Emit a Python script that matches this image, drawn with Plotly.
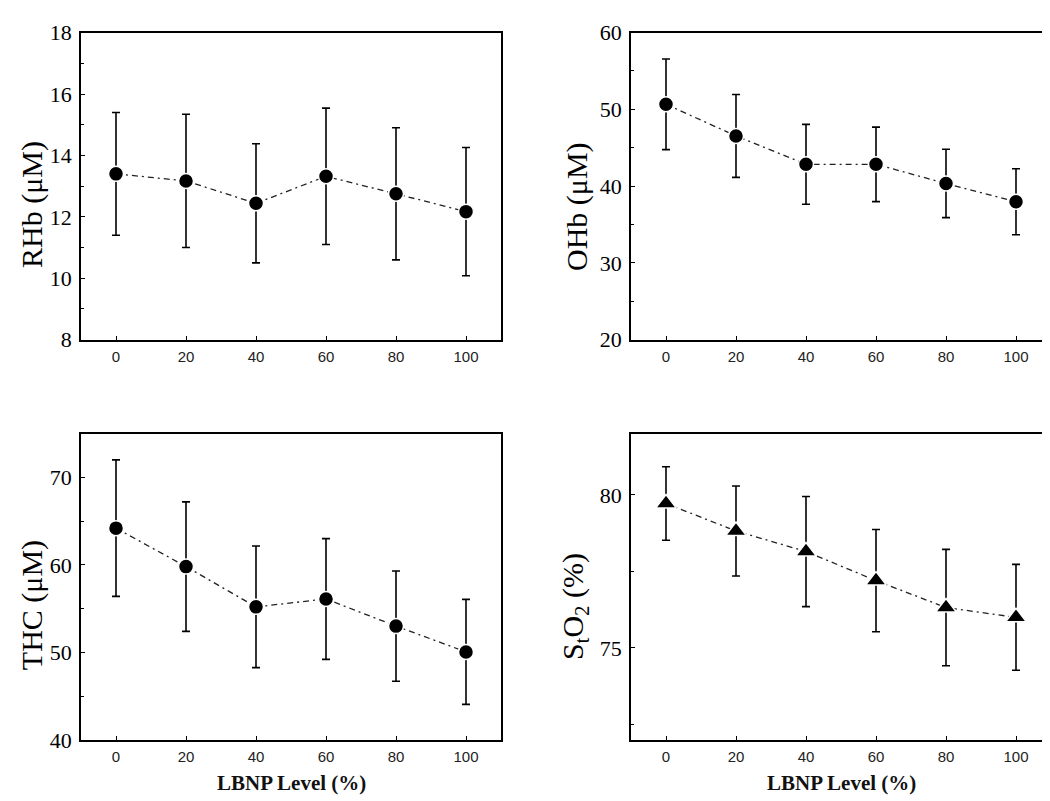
import plotly.graph_objects as go

W, H = 1050, 801

lbnp = [0, 20, 40, 60, 80, 100]

rhb = [13.40, 13.17, 12.44, 13.32, 12.75, 12.17]
rhb_err = [2.00, 2.17, 1.94, 2.22, 2.15, 2.09]

ohb = [50.66, 46.54, 42.84, 42.84, 40.35, 37.96]
ohb_err = [5.9, 5.4, 5.2, 4.85, 4.45, 4.3]

thc = [64.2, 59.8, 55.2, 56.1, 53.0, 50.05]
thc_err = [7.8, 7.4, 6.95, 6.9, 6.3, 6.0]

sto2 = [79.72, 78.82, 78.15, 77.20, 76.32, 76.00]
sto2_err = [1.20, 1.47, 1.80, 1.67, 1.90, 1.73]

serif = "Liberation Serif, Times New Roman, serif"
narrow = "Liberation Sans Narrow, Liberation Sans, Arial, sans-serif"

# panel boxes in pixels: (left, right, top, bottom)
boxes = {
    1: (73, 493, 13, 330),
    2: (623, 1043, 13, 330),
    3: (73, 493, 427, 743),
    4: (623, 1043, 427, 743),
}

def px_x(v):
    return v / W

def px_y(v):
    return 1 - v / H

fig = go.Figure()

panels = [
    (1, rhb, rhb_err, "circle", 15),
    (2, ohb, ohb_err, "circle", 15),
    (3, thc, thc_err, "circle", 15),
    (4, sto2, sto2_err, "triangle-up", 18),
]

for n, ys, errs, sym, size in panels:
    sfx = "" if n == 1 else str(n)
    fig.add_trace(go.Scatter(
        x=lbnp, y=ys,
        mode="lines+markers",
        line=dict(color="#222222", width=1.3, dash="6px,4px,2px,4px"),
        marker=dict(symbol=sym, size=size, color="black",
                    line=dict(color="white", width=1.5)),
        error_y=dict(type="data", array=errs, visible=True,
                     color="black", thickness=1.6, width=4),
        xaxis="x" + sfx, yaxis="y" + sfx,
        showlegend=False,
    ))

y_specs = {
    1: dict(range=[8, 18], dtick=2, tick0=0, minor=dict(dtick=1, tick0=0)),
    2: dict(range=[20, 60], dtick=10, tick0=0, minor=dict(dtick=5, tick0=0)),
    3: dict(range=[40, 75], dtick=10, tick0=0, minor=dict(dtick=5, tick0=0)),
    4: dict(range=[72, 82], dtick=5, tick0=0, minor=dict(dtick=2.5, tick0=0)),
}

layout = dict(
    width=W, height=H,
    margin=dict(l=0, r=0, t=0, b=0),
    paper_bgcolor="white", plot_bgcolor="white",
    showlegend=False,
)

for n, (l, r, t, b) in boxes.items():
    sfx = "" if n == 1 else str(n)
    layout["xaxis" + sfx] = dict(
        domain=[px_x(l), px_x(r)],
        anchor="y" + sfx,
        range=[-10, 110],
        tickvals=lbnp,
        ticks="inside", ticklen=4, tickwidth=1.2, tickcolor="black",
        showline=True, linecolor="black", linewidth=1.6, mirror=True,
        showgrid=False, zeroline=False,
        tickfont=dict(family=narrow, size=15, color="#222"),
        ticklabelstandoff=2,
    )
    spec = y_specs[n]
    minor = dict(spec["minor"], ticks="inside", ticklen=3, tickwidth=1,
                 tickcolor="black", showgrid=False)
    layout["yaxis" + sfx] = dict(
        domain=[px_y(b), px_y(t)],
        anchor="x" + sfx,
        range=spec["range"], dtick=spec["dtick"], tick0=spec["tick0"],
        minor=minor,
        ticks="inside", ticklen=4, tickwidth=1.2, tickcolor="black",
        showline=True, linecolor="black", linewidth=1.6, mirror=True,
        showgrid=False, zeroline=False,
        tickfont=dict(family=serif, size=22, color="black"),
        ticklabelstandoff=3,
    )

fig.update_layout(**layout)

ytitles = [
    ("RHb (\u03bcM)", 24, 191),
    ("OHb (\u03bcM)", 569, 193),
    ("THC (\u03bcM)", 24, 604),
    ("S<sub>t</sub>O<sub>2</sub> (%)", 567, 606),
]
for text, cx, cy in ytitles:
    fig.add_annotation(
        text=text, x=px_x(cx), y=px_y(cy), xref="paper", yref="paper",
        textangle=-90, showarrow=False, xanchor="center", yanchor="middle",
        font=dict(family=serif, size=30, color="black"),
    )

for cx in (283, 833):
    fig.add_annotation(
        text="<b>LBNP Level (%)</b>", x=px_x(cx), y=px_y(788),
        xref="paper", yref="paper", showarrow=False,
        xanchor="center", yanchor="middle",
        font=dict(family=serif, size=21, color="#111"),
    )

fig.write_html("out.html")
